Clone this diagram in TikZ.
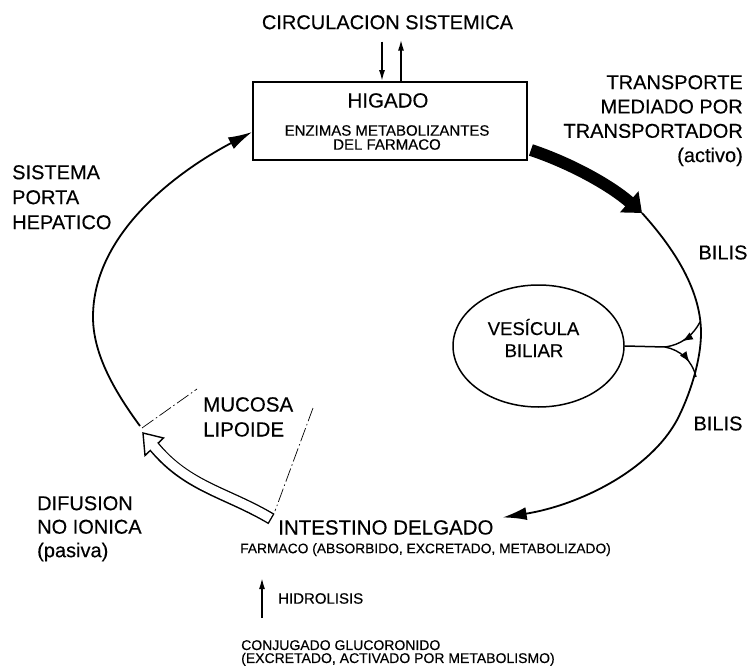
\documentclass[tikz,border=0pt]{standalone}
\usepackage{fontspec}
\setmainfont{Liberation Sans}[FakeBold=0.3]
\usetikzlibrary{arrows.meta,shapes.geometric,calc,decorations.markings}
\begin{document}
\begin{tikzpicture}[x=1pt,y=-1pt,
  lbl/.style={inner sep=0pt, font=\fontsize{20}{24.5}\selectfont},
  small/.style={inner sep=0pt, font=\fontsize{14.5}{14}\selectfont},
  flow/.style={line width=1.8pt},
  bigtip/.style={-{Latex[length=24pt,width=13pt]}},
  smalltip/.style={-{Latex[length=11pt,width=6pt]}},
  dashline/.style={line width=0.7pt, dash pattern=on 14pt off 3pt on 1.5pt off 3pt},
  branch/.style={line width=1.4pt},
  midtip/.style={postaction={decorate}, decoration={markings, mark=at position #1 with {\arrow{Latex[length=11pt,width=8pt]}}}}
]
\fill[white] (0,0) rectangle (749,668);
\useasboundingbox (0,0) rectangle (749,668);

% texts
\node[lbl, anchor=north] (circ) at (387.5,15) {CIRCULACION SISTEMICA};
\node[draw, line width=1.8pt, minimum width=274pt, minimum height=78pt, inner sep=0pt] (box) at (390,121) {};
\node[lbl, anchor=north, font=\fontsize{20.5}{24}\selectfont] (higado) at (388,93) {HIGADO};
\node[inner sep=0pt, anchor=north, align=center, font=\fontsize{15}{14}\selectfont] (enz) at (387,125) {ENZIMAS METABOLIZANTES\\DEL FARMACO};
\node[lbl, anchor=north west, align=left, font=\fontsize{20}{25}\selectfont] (portal) at (12,165) {SISTEMA\\PORTA\\HEPATICO};
\node[lbl, anchor=north east, align=right, font=\fontsize{20}{24.3}\selectfont] (transp) at (743,75) {TRANSPORTE\\MEDIADO POR\\TRANSPORTADOR\\(activo)};
\node[lbl] (bilis1) at (723,252.5) {BILIS};
\node[lbl] (bilis2) at (718,423.5) {BILIS};
\node[draw, ellipse, line width=1.5pt, minimum width=171pt, minimum height=122pt, inner sep=0pt] (gb) at (538.5,346) {};
\node[lbl, anchor=base, font=\fontsize{18.5}{22}\selectfont] (ves1) at (533.5,335) {VESÍCULA};
\node[lbl, anchor=base, font=\fontsize{18.5}{22}\selectfont] (ves2) at (534,357) {BILIAR};
\node[lbl, anchor=north west, align=left, font=\fontsize{20.5}{25}\selectfont] (mucosa) at (203,397) {MUCOSA\\LIPOIDE};
\node[lbl, anchor=north west, align=left, font=\fontsize{20}{23.5}\selectfont] (difus) at (37,496) {DIFUSION\\NO IONICA\\(pasiva)};
\node[lbl, anchor=north west, font=\fontsize{20.5}{24}\selectfont] (intest) at (278,520) {INTESTINO DELGADO};
\node[inner sep=0pt, anchor=north west, font=\fontsize{13.8}{14}\selectfont] (farm) at (240,543) {FARMACO (ABSORBIDO, EXCRETADO, METABOLIZADO)};
\node[small, anchor=north west, font=\fontsize{15}{14}\selectfont] (hidro) at (278,593) {HIDROLISIS};
\node[small, anchor=north west, align=left, font=\fontsize{14}{13}\selectfont] (conj) at (241,640) {CONJUGADO GLUCORONIDO\\(EXCRETADO, ACTIVADO POR METABOLISMO)};

% coordinates
\coordinate (leftStart) at (140,426);
\coordinate (bileTop) at (642,213);
\coordinate (J) at (665,347);
\coordinate (bIn) at (700,322);
\coordinate (bOut) at (696,377);
\coordinate (wTail) at (271.5,519);
\coordinate (wBase) at (154,446.5);
\coordinate (wTip) at (143,433);
\coordinate (wB1) at (145,455.5);
\coordinate (wB2) at (163.5,438);
\coordinate (m1a) at (142,428);
\coordinate (m1b) at (197,389);
\coordinate (m2a) at (313,408);
\coordinate (m2b) at (275,511);
\coordinate (hB) at (262,618);
\coordinate (hT) at (262,578);

% circulation arrows
\draw[line width=1.6pt, smalltip] ($(circ.south)+(-5.5,12)$) -- ($(box.north)+(-8,0)$);
\draw[line width=1.6pt, smalltip] ($(box.north)+(11,0)$) -- ($(circ.south)+(13.5,10)$);

% portal system arc
\draw[flow, bigtip] (leftStart) .. controls (112,388) and (93,352) .. (93,317)
  .. controls (93,232) and (180,170) .. ($(box.west)+(0,11)$);

% active transport (thick arrow)
\draw[line width=12pt, -{Triangle[length=17pt,width=27pt]}] ($(box.east)+(3,29)$) .. controls (570,163) and (610,185) .. (bileTop);

% bile arc
\draw[flow, bigtip] (bileTop) .. controls (680,255) and (701,295) .. (701,333)
  .. controls (701,360) and (690,395) .. (677,420)
  .. controls (650,470) and (580,505) .. ($(intest.east)+(9,-10)$);

% gallbladder branches
\draw[line width=1.5pt] (gb.east) -- (J);
\draw[branch, midtip=0.6] (bIn) .. controls (692,337) and (680,345) .. (J);
\draw[branch, midtip=0.65] (J) .. controls (680,350) and (692,360) .. (bOut);

% mucosa dashed lines
\draw[dashline] (m1a) -- (m1b);
\draw[dashline] (m2a) -- (m2b);

% hollow diffusion arrow
\draw[line width=12pt] (wTail) .. controls (226,492) and (187,487) .. (wBase);
\filldraw[fill=white, line width=1.4pt, line join=miter] (wTip) -- (wB1) -- (wB2) -- cycle;
\draw[white, line width=9.2pt, shorten <=1.4pt, shorten >=-3pt] (wTail) .. controls (226,492) and (187,487) .. (wBase);

% hydrolysis arrow
\draw[line width=1.6pt, smalltip] (hB) -- (hT);
\end{tikzpicture}
\end{document}
